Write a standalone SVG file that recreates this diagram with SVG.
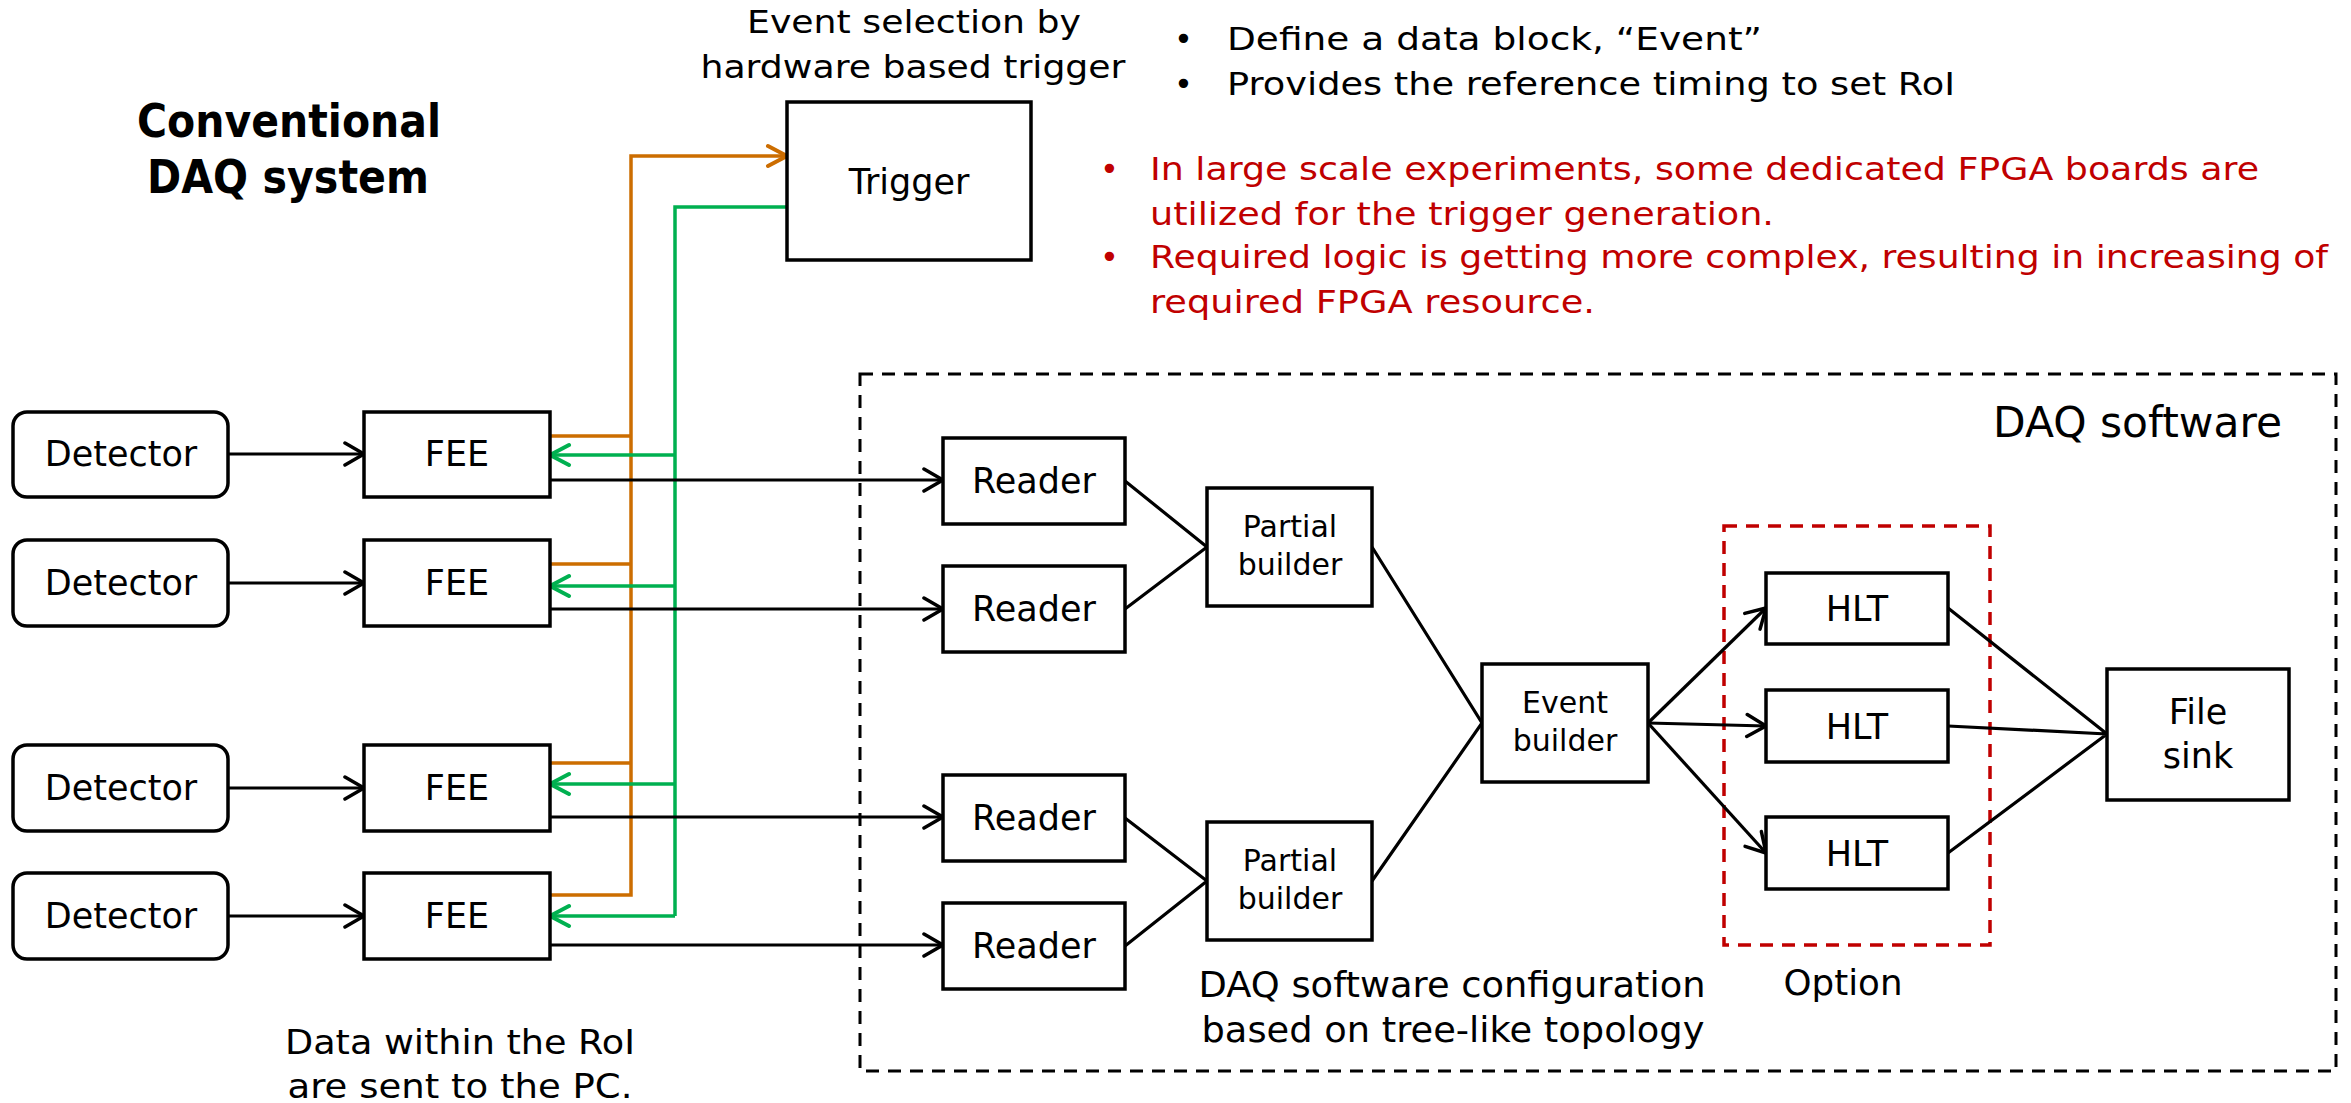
<svg xmlns="http://www.w3.org/2000/svg" width="2351" height="1103" viewBox="0 0 2351 1103">
  <defs>
    <style>
      text { font-family: "DejaVu Sans", "Noto Sans", sans-serif; fill: #000; }
      .box { fill: #fff; stroke: #000; stroke-width: 3.5; }
      .det { fill: #fff; stroke: #000; stroke-width: 3.5; }
      .lbl { font-size: 35px; text-anchor: middle; }
      .lbl-s { font-size: 30px; text-anchor: middle; }
      .note { font-size: 32px; }
      .red { fill: #C00000; }
      .wire { fill: none; stroke: #000; stroke-width: 3.2; }
      .trig { fill: none; stroke: #CC6D00; stroke-width: 3.5; }
      .gate { fill: none; stroke: #00B050; stroke-width: 3.5; }
      .frame { fill: none; stroke: #000; stroke-width: 3; stroke-dasharray: 13 9; }
      .opt { fill: none; stroke: #C00000; stroke-width: 3.5; stroke-dasharray: 13 9; }
    </style>
    <marker id="ah-k" viewBox="0 0 24 28" refX="22" refY="14" markerWidth="24" markerHeight="28" markerUnits="userSpaceOnUse" orient="auto">
      <path d="M3,3 L22,14 L3,25" fill="none" stroke="#000" stroke-width="3.5" stroke-linecap="round" stroke-linejoin="round"/>
    </marker>
    <marker id="ah-o" viewBox="0 0 24 28" refX="22" refY="14" markerWidth="24" markerHeight="28" markerUnits="userSpaceOnUse" orient="auto">
      <path d="M3,4 L22,14 L3,24" fill="none" stroke="#CC6D00" stroke-width="4" stroke-linecap="round" stroke-linejoin="round"/>
    </marker>
    <marker id="ah-g" viewBox="0 0 24 28" refX="22" refY="14" markerWidth="24" markerHeight="28" markerUnits="userSpaceOnUse" orient="auto">
      <path d="M3,4 L22,14 L3,24" fill="none" stroke="#00B050" stroke-width="4" stroke-linecap="round" stroke-linejoin="round"/>
    </marker>
  </defs>

  <rect width="2351" height="1103" fill="#fff"/>

  <!-- headings and notes -->
  <g id="title">
    <text x="289" y="137" font-family="Noto Sans, sans-serif" font-weight="bold" font-size="46" text-anchor="middle" textLength="304" lengthAdjust="spacingAndGlyphs">Conventional</text>
    <text x="288" y="193" font-family="Noto Sans, sans-serif" font-weight="bold" font-size="46" text-anchor="middle" textLength="282" lengthAdjust="spacingAndGlyphs">DAQ system</text>
  </g>
  <g id="trigger-note">
    <text class="note" x="914" y="33" text-anchor="middle" textLength="334" lengthAdjust="spacingAndGlyphs">Event selection by</text>
    <text class="note" x="913" y="78" text-anchor="middle" textLength="425" lengthAdjust="spacingAndGlyphs">hardware based trigger</text>
  </g>
  <g id="event-notes">
    <text class="note" x="1174" y="50">•</text>
    <text class="note" x="1227" y="50" textLength="535" lengthAdjust="spacingAndGlyphs">Define a data block, “Event”</text>
    <text class="note" x="1174" y="95">•</text>
    <text class="note" x="1227" y="95" textLength="728" lengthAdjust="spacingAndGlyphs">Provides the reference timing to set RoI</text>
  </g>
  <g id="fpga-notes">
    <text class="note red" x="1100" y="180">•</text>
    <text class="note red" x="1150" y="180" textLength="1109" lengthAdjust="spacingAndGlyphs">In large scale experiments, some dedicated FPGA boards are</text>
    <text class="note red" x="1150" y="225" textLength="624" lengthAdjust="spacingAndGlyphs">utilized for the trigger generation.</text>
    <text class="note red" x="1100" y="268">•</text>
    <text class="note red" x="1150" y="268" textLength="1178" lengthAdjust="spacingAndGlyphs">Required logic is getting more complex, resulting in increasing of</text>
    <text class="note red" x="1150" y="313" textLength="445" lengthAdjust="spacingAndGlyphs">required FPGA resource.</text>
  </g>

  <!-- software area frames -->
  <g id="daq-software">
    <rect class="frame" x="860" y="374" width="1476" height="697"/>
    <text x="1993" y="437" font-size="42" textLength="289" lengthAdjust="spacingAndGlyphs">DAQ software</text>
    <text x="1452" y="997" font-size="35" text-anchor="middle" textLength="507" lengthAdjust="spacingAndGlyphs">DAQ software configuration</text>
    <text x="1453" y="1042" font-size="35" text-anchor="middle" textLength="503" lengthAdjust="spacingAndGlyphs">based on tree-like topology</text>
  </g>
  <g id="option">
    <rect class="opt" x="1724" y="526" width="266" height="419"/>
    <text x="1843" y="995" font-size="36" text-anchor="middle" textLength="119" lengthAdjust="spacingAndGlyphs">Option</text>
  </g>
  <g id="roi-note">
    <text x="460" y="1054" font-size="33" text-anchor="middle" textLength="350" lengthAdjust="spacingAndGlyphs">Data within the RoI</text>
    <text x="460" y="1098" font-size="33" text-anchor="middle" textLength="345" lengthAdjust="spacingAndGlyphs">are sent to the PC.</text>
  </g>

  <!-- connectors -->
  <g id="connectors">
    <!-- detector to FEE -->
    <line class="wire" x1="228" y1="454" x2="364" y2="454" marker-end="url(#ah-k)"/>
    <line class="wire" x1="228" y1="583" x2="364" y2="583" marker-end="url(#ah-k)"/>
    <line class="wire" x1="228" y1="788" x2="364" y2="788" marker-end="url(#ah-k)"/>
    <line class="wire" x1="228" y1="916" x2="364" y2="916" marker-end="url(#ah-k)"/>

    <!-- trigger requests from FEEs -->
    <path class="trig" d="M550,436 H631 M550,564 H631 M550,763 H631 M550,895 H631 V156 H787" marker-end="url(#ah-o)"/>

    <!-- trigger distribution back to FEEs -->
    <path class="gate" d="M787,207 H675 V916"/>
    <line class="gate" x1="675" y1="455" x2="550" y2="455" marker-end="url(#ah-g)"/>
    <line class="gate" x1="675" y1="586" x2="550" y2="586" marker-end="url(#ah-g)"/>
    <line class="gate" x1="675" y1="784" x2="550" y2="784" marker-end="url(#ah-g)"/>
    <line class="gate" x1="675" y1="916" x2="550" y2="916" marker-end="url(#ah-g)"/>

    <!-- FEE data to readers -->
    <line class="wire" x1="550" y1="480" x2="943" y2="480" marker-end="url(#ah-k)"/>
    <line class="wire" x1="550" y1="609" x2="943" y2="609" marker-end="url(#ah-k)"/>
    <line class="wire" x1="550" y1="817" x2="943" y2="817" marker-end="url(#ah-k)"/>
    <line class="wire" x1="550" y1="945" x2="943" y2="945" marker-end="url(#ah-k)"/>

    <!-- readers to partial builders -->
    <path class="wire" d="M1125,481 L1207,547 L1125,609"/>
    <path class="wire" d="M1125,818 L1207,881 L1125,946"/>

    <!-- partial builders to event builder -->
    <path class="wire" d="M1372,547 L1482,723 L1372,881"/>

    <!-- event builder to HLTs -->
    <line class="wire" x1="1648" y1="723" x2="1766" y2="608" marker-end="url(#ah-k)"/>
    <line class="wire" x1="1648" y1="723" x2="1766" y2="726" marker-end="url(#ah-k)"/>
    <line class="wire" x1="1648" y1="723" x2="1766" y2="853" marker-end="url(#ah-k)"/>

    <!-- HLTs to file sink -->
    <path class="wire" d="M1948,608 L2107,734 L1948,853 M1948,726 L2107,734"/>
  </g>

  <!-- nodes -->
  <g id="detector-1"><rect class="det" x="13" y="412" width="215" height="85" rx="14"/><text class="lbl" x="121" y="466">Detector</text></g>
  <g id="detector-2"><rect class="det" x="13" y="540" width="215" height="86" rx="14"/><text class="lbl" x="121" y="595">Detector</text></g>
  <g id="detector-3"><rect class="det" x="13" y="745" width="215" height="86" rx="14"/><text class="lbl" x="121" y="800">Detector</text></g>
  <g id="detector-4"><rect class="det" x="13" y="873" width="215" height="86" rx="14"/><text class="lbl" x="121" y="928">Detector</text></g>

  <g id="fee-1"><rect class="box" x="364" y="412" width="186" height="85"/><text class="lbl" x="457" y="466">FEE</text></g>
  <g id="fee-2"><rect class="box" x="364" y="540" width="186" height="86"/><text class="lbl" x="457" y="595">FEE</text></g>
  <g id="fee-3"><rect class="box" x="364" y="745" width="186" height="86"/><text class="lbl" x="457" y="800">FEE</text></g>
  <g id="fee-4"><rect class="box" x="364" y="873" width="186" height="86"/><text class="lbl" x="457" y="928">FEE</text></g>

  <g id="trigger"><rect class="box" x="787" y="102" width="244" height="158"/><text class="lbl" x="909" y="194" font-size="38">Trigger</text></g>

  <g id="reader-1"><rect class="box" x="943" y="438" width="182" height="86"/><text class="lbl" x="1034" y="493">Reader</text></g>
  <g id="reader-2"><rect class="box" x="943" y="566" width="182" height="86"/><text class="lbl" x="1034" y="621">Reader</text></g>
  <g id="reader-3"><rect class="box" x="943" y="775" width="182" height="86"/><text class="lbl" x="1034" y="830">Reader</text></g>
  <g id="reader-4"><rect class="box" x="943" y="903" width="182" height="86"/><text class="lbl" x="1034" y="958">Reader</text></g>

  <g id="partial-builder-1"><rect class="box" x="1207" y="488" width="165" height="118"/><text class="lbl-s" x="1290" y="537">Partial</text><text class="lbl-s" x="1290" y="575">builder</text></g>
  <g id="partial-builder-2"><rect class="box" x="1207" y="822" width="165" height="118"/><text class="lbl-s" x="1290" y="871">Partial</text><text class="lbl-s" x="1290" y="909">builder</text></g>

  <g id="event-builder"><rect class="box" x="1482" y="664" width="166" height="118"/><text class="lbl-s" x="1565" y="713">Event</text><text class="lbl-s" x="1565" y="751">builder</text></g>

  <g id="hlt-1"><rect class="box" x="1766" y="573" width="182" height="71"/><text class="lbl" x="1857" y="621" font-size="37">HLT</text></g>
  <g id="hlt-2"><rect class="box" x="1766" y="690" width="182" height="72"/><text class="lbl" x="1857" y="739" font-size="37">HLT</text></g>
  <g id="hlt-3"><rect class="box" x="1766" y="817" width="182" height="72"/><text class="lbl" x="1857" y="866" font-size="37">HLT</text></g>

  <g id="file-sink"><rect class="box" x="2107" y="669" width="182" height="131"/><text class="lbl" x="2198" y="724" font-size="36">File</text><text class="lbl" x="2198" y="768" font-size="36">sink</text></g>
</svg>
